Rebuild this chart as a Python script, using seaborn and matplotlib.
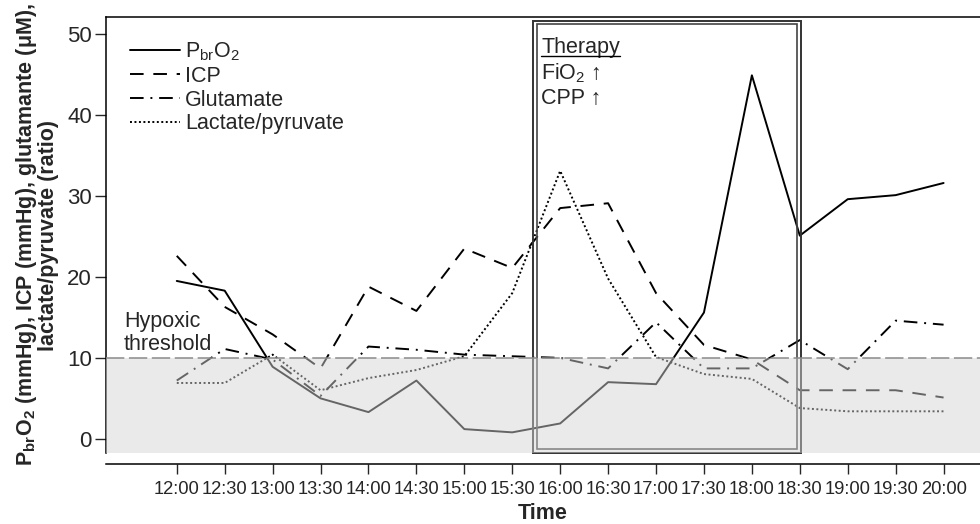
import seaborn as sns
import matplotlib.pyplot as plt
import matplotlib.patches as mpatches
from matplotlib.lines import Line2D
import pandas as pd
import numpy as np

# Readings taken every half hour, 12:00 - 20:00
times = ['12:00', '12:30', '13:00', '13:30', '14:00', '14:30', '15:00', '15:30',
         '16:00', '16:30', '17:00', '17:30', '18:00', '18:30', '19:00', '19:30', '20:00']
pbro2 = [19.5, 18.3, 8.9, 5.0, 3.3, 7.2, 1.2, 0.8,
         1.9, 7.0, 6.75, 15.6, 44.9, 25.1, 29.6, 30.1, 31.6]
icp = [22.6, 16.3, 12.9, 8.7, 18.8, 15.8, 23.5, 21.1,
       28.5, 29.1, 18.0, 11.6, 9.8, 6.0, 6.0, 6.0, 5.1]
glutamate = [7.2, 11.1, 9.8, 5.3, 11.4, 11.0, 10.4, 10.2,
             10.0, 8.7, 14.4, 8.7, 8.7, 12.2, 8.6, 14.6, 14.1]
lac_pyr = [6.9, 6.9, 10.4, 6.0, 7.5, 8.5, 10.2, 18.0,
           33.1, 19.8, 10.1, 8.0, 7.4, 3.8, 3.4, 3.4, 3.4]
series_names = [r'P$_{\mathrm{br}}$O$_2$', 'ICP', 'Glutamate', 'Lactate/pyruvate']
hypoxic_threshold = 10
therapy_start, therapy_end = '15:30', '18:30'

df = pd.DataFrame({'idx': np.arange(len(times)), 'time': times,
                   'pbro2': pbro2, 'icp': icp, 'glutamate': glutamate, 'lac_pyr': lac_pyr})

sns.set_style('white')
plt.rcParams['font.family'] = ['Liberation Sans', 'DejaVu Sans']
plt.rcParams['mathtext.fontset'] = 'custom'
plt.rcParams['mathtext.rm'] = 'Liberation Sans'
plt.rcParams['mathtext.it'] = 'Liberation Sans:italic'
plt.rcParams['mathtext.bf'] = 'Liberation Sans:bold'

FS = 15.5

fig = plt.figure(figsize=(9.8, 5.24), dpi=100)
ax = fig.add_axes([0.108, 0.1355, 0.892, 0.832])

styles = {
    'pbro2': (),
    'icp': (7, 5),
    'glutamate': (7, 3.5, 1, 3.5),
    'lac_pyr': (1, 1.3),
}
for col, name in zip(['pbro2', 'icp', 'glutamate', 'lac_pyr'], series_names):
    sns.lineplot(data=df, x='idx', y=col, color='black', linewidth=1.4,
                 label=name, ax=ax, zorder=3)
    line = ax.lines[-1]
    if styles[col]:
        line.set_dashes(styles[col])

ax.set_xlim(-1.48, 16.76)
ax.set_ylim(-1.75, 52.1)

# therapy window (double frame)
x0 = times.index(therapy_start) + 0.43
x1 = times.index(therapy_end) + 0.02
outer = mpatches.Rectangle((x0, -1.72), x1 - x0, 53.3, fill=False,
                           edgecolor='#333333', linewidth=1.4, zorder=4, clip_on=False)
inner = mpatches.Rectangle((x0 + 0.09, -1.25), x1 - x0 - 0.17, 52.55, fill=False,
                           edgecolor='#444444', linewidth=1.2, zorder=4, clip_on=False)
ax.add_patch(outer)
ax.add_patch(inner)

# hypoxic zone: translucent grey veil over everything below the threshold
ax.axhspan(-1.75, hypoxic_threshold, color='#d4d4d4', alpha=0.48, zorder=5, linewidth=0)
ax.axhline(hypoxic_threshold, color='#8a8a8a', linewidth=1.1, dashes=(12, 3), zorder=6)

ax.text(-1.1, 13.1, 'Hypoxic\nthreshold', fontsize=FS, va='center', ha='left',
        linespacing=1.15, zorder=7)

t_ther = ax.text(x0 + 0.17, 48.35, 'Therapy', fontsize=FS, va='center', ha='left', zorder=7)
ax.text(x0 + 0.17, 45.15, 'FiO$_2$ ↑', fontsize=FS, va='center', ha='left', zorder=7)
ax.text(x0 + 0.17, 42.05, 'CPP ↑', fontsize=FS, va='center', ha='left', zorder=7)

ax.set_xticks(df['idx'])
ax.set_xticklabels(times)
ax.set_yticks([0, 10, 20, 30, 40, 50])
ax.tick_params(axis='y', labelsize=FS + 0.5, length=8, width=1, direction='out', left=True, pad=2)
ax.tick_params(axis='x', labelsize=13.2, length=7, width=1, direction='out', bottom=True, pad=5)

ax.set_xlabel('Time', fontsize=FS, fontweight='bold', labelpad=4)
ax.set_ylabel(r'$\mathbf{P_{br}O_2}$ (mmHg), ICP (mmHg), glutamante (μM),' + '\nlactate/pyruvate (ratio)',
              fontsize=FS, fontweight='bold', labelpad=6, linespacing=0.95)

for s in ['left', 'top', 'bottom']:
    ax.spines[s].set_color('black')
    ax.spines[s].set_linewidth(1.1)
ax.spines['right'].set_visible(False)
ax.spines['bottom'].set_position(('outward', 8))

leg = ax.legend(loc='upper left', bbox_to_anchor=(0.006, 0.99), frameon=False,
                fontsize=FS, handlelength=2.3, handletextpad=0.25, labelspacing=0.12)
for h in leg.get_lines():
    h.set_linewidth(1.4)

# underline for "Therapy"
fig.canvas.draw()
bb = t_ther.get_window_extent().transformed(fig.transFigure.inverted())
fig.add_artist(Line2D([bb.x0, bb.x1], [bb.y0 + 0.004, bb.y0 + 0.004],
                      color='black', linewidth=1.0, transform=fig.transFigure))

plt.savefig('out.png', dpi=100, facecolor='white')
plt.close()
